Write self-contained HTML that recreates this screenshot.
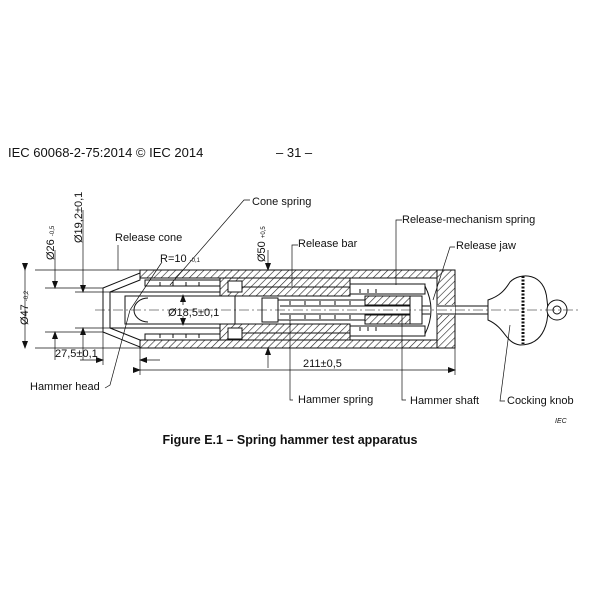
<!DOCTYPE html>
<html><head><meta charset="utf-8"><style>
body{margin:0;background:#fff;width:600px;height:600px;overflow:hidden}
svg{display:block}
text{font-family:"Liberation Sans",sans-serif;fill:#111}
</style></head><body>
<svg width="600" height="600" viewBox="0 0 600 600" xmlns="http://www.w3.org/2000/svg">
<defs>
<pattern id="h" width="5" height="5" patternUnits="userSpaceOnUse" patternTransform="rotate(45)">
<rect width="5" height="5" fill="#fff"/><line x1="0" y1="0" x2="0" y2="5" stroke="#222" stroke-width="1.2"/></pattern>
<marker id="a" markerWidth="8" markerHeight="6" refX="7" refY="3" orient="auto" markerUnits="userSpaceOnUse"><path d="M0,0 L8,3 L0,6z" fill="#111"/></marker>
</defs>
<text x="8" y="157" font-size="13">IEC 60068-2-75:2014 © IEC 2014</text>
<text x="276" y="157" font-size="13">– 31 –</text>

<g stroke="#111" stroke-width="1" fill="none">
<!-- outer tube -->
<rect x="140" y="270" width="315" height="8" fill="url(#h)"/>
<rect x="140" y="340" width="315" height="8" fill="url(#h)"/>
<rect x="437" y="270" width="18" height="78" fill="url(#h)"/>
<rect x="437" y="305" width="18" height="10" fill="#fff" stroke="none"/>
<!-- release cone -->
<path d="M103,288 L140,273 L140,280 L110,292 L110,328 L140,340 L140,347 L103,332 Z" fill="#fff"/>
<line x1="110" y1="292" x2="230" y2="292"/><line x1="110" y1="328" x2="230" y2="328"/>
<!-- cone springs -->
<rect x="145" y="280" width="75" height="6" fill="#fff"/><rect x="145" y="334" width="75" height="6" fill="#fff"/>
<!-- middle sleeve -->
<rect x="220" y="278" width="130" height="18" fill="url(#h)"/>
<rect x="220" y="324" width="130" height="16" fill="url(#h)"/>
<rect x="228" y="281" width="14" height="11" fill="#fff"/><rect x="228" y="328" width="14" height="11" fill="#fff"/>
<line x1="242" y1="287" x2="400" y2="287"/><line x1="242" y1="333" x2="400" y2="333"/>
<rect x="350" y="284" width="75" height="10" fill="#fff"/><rect x="350" y="326" width="75" height="10" fill="#fff"/>
<!-- inner hammer -->
<rect x="125" y="296" width="110" height="28" fill="#fff"/>
<path d="M148,298 A14,12 0 0 0 148,322" />
<rect x="262" y="298" width="16" height="24" fill="#fff"/>
<line x1="278" y1="300" x2="390" y2="300"/><line x1="278" y1="320" x2="390" y2="320"/>
<line x1="280" y1="306" x2="430" y2="306"/><line x1="280" y1="314" x2="430" y2="314"/>
<rect x="365" y="296" width="45" height="9" fill="url(#h)"/><rect x="365" y="315" width="45" height="9" fill="url(#h)"/>
<path d="M425,286 Q437,310 425,334" />
<rect x="410" y="296" width="12" height="28" fill="#fff"/>
<!-- shaft & knob -->
<line x1="437" y1="306" x2="492" y2="306"/><line x1="437" y1="314" x2="492" y2="314"/>
<path d="M488,300 C500,296 505,290 510,282 C520,272 545,272 547,300 C550,320 545,345 520,345 C505,343 506,328 488,320 Z" fill="#fff"/>
<line x1="523" y1="276" x2="523" y2="344" stroke-dasharray="2 1.5" stroke-width="3"/>
<circle cx="557" cy="310" r="10" fill="#fff"/><circle cx="557" cy="310" r="4"/>
<line x1="95" y1="310" x2="580" y2="310" stroke-dasharray="10 3 2 3" stroke-width="0.6"/>
<!-- springs ticks -->
<path d="M160,282v4M173,282v4M186,282v4M199,282v4M160,334v4M173,334v4M186,334v4M199,334v4M290,301v4M305,301v4M320,301v4M335,301v4M350,301v4M290,315v4M305,315v4M320,315v4M335,315v4M350,315v4M360,289v4M368,289v4M376,289v4M360,327v4M368,327v4M376,327v4"/>
<!-- dimension lines -->
<line x1="35" y1="270" x2="140" y2="270" stroke-width="0.7"/><line x1="35" y1="348" x2="140" y2="348" stroke-width="0.7"/>
<line x1="25" y1="270" x2="25" y2="348" stroke-width="0.7" marker-start="url(#a)" marker-end="url(#a)"/>
<line x1="45" y1="288" x2="103" y2="288" stroke-width="0.7"/><line x1="45" y1="332" x2="103" y2="332" stroke-width="0.7"/>
<line x1="55" y1="250" x2="55" y2="288" stroke-width="0.7" marker-end="url(#a)"/><line x1="55" y1="360" x2="55" y2="332" stroke-width="0.7" marker-end="url(#a)"/>
<line x1="75" y1="292" x2="110" y2="292" stroke-width="0.7"/><line x1="75" y1="328" x2="110" y2="328" stroke-width="0.7"/>
<line x1="83" y1="210" x2="83" y2="292" stroke-width="0.7" marker-end="url(#a)"/><line x1="83" y1="360" x2="83" y2="328" stroke-width="0.7" marker-end="url(#a)"/>
<line x1="103" y1="332" x2="103" y2="365" stroke-width="0.7"/><line x1="140" y1="348" x2="140" y2="375" stroke-width="0.7"/>
<line x1="80" y1="360" x2="103" y2="360" stroke-width="0.7" marker-end="url(#a)"/><line x1="160" y1="360" x2="140" y2="360" stroke-width="0.7" marker-end="url(#a)"/>
<line x1="455" y1="348" x2="455" y2="375" stroke-width="0.7"/>
<line x1="140" y1="370" x2="455" y2="370" stroke-width="0.7" marker-start="url(#a)" marker-end="url(#a)"/>
<line x1="268" y1="250" x2="268" y2="270" stroke-width="0.7" marker-end="url(#a)"/><line x1="268" y1="368" x2="268" y2="348" stroke-width="0.7" marker-end="url(#a)"/>
<line x1="183" y1="305" x2="183" y2="295" stroke-width="0.7" marker-end="url(#a)"/><line x1="183" y1="316" x2="183" y2="325" stroke-width="0.7" marker-end="url(#a)"/>
<!-- leaders -->
<path d="M250,200 L244,200 L170,285" stroke-width="0.7"/>
<path d="M118,245 L118,270" stroke-width="0.7"/>
<path d="M162,262 L130,310 L110,385 L105,388" stroke-width="0.7"/>
<path d="M298,245 L292,245 L292,286" stroke-width="0.7"/>
<path d="M402,220 L396,220 L396,285" stroke-width="0.7"/>
<path d="M455,247 L450,247 L433,300" stroke-width="0.7"/>
<path d="M293,400 L290,400 L290,320" stroke-width="0.7"/>
<path d="M406,400 L402,400 L402,314" stroke-width="0.7"/>
<path d="M505,401 L500,401 L510,325" stroke-width="0.7"/>
</g>
<g font-size="11">
<text x="252" y="205">Cone spring</text>
<text x="115" y="241">Release cone</text>
<text x="160" y="262">R=10 <tspan font-size="6">-0,1</tspan></text>
<text x="298" y="247">Release bar</text>
<text x="402" y="223">Release-mechanism spring</text>
<text x="456" y="249">Release jaw</text>
<text x="168" y="316">Ø18,5±0,1</text>
<text x="55" y="357">27,5±0,1</text>
<text x="303" y="367">211±0,5</text>
<text x="30" y="390">Hammer head</text>
<text x="298" y="403">Hammer spring</text>
<text x="410" y="404">Hammer shaft</text>
<text x="507" y="404">Cocking knob</text>
<text transform="translate(28,325) rotate(-90)">Ø47 <tspan font-size="6">-0,2</tspan></text>
<text transform="translate(54,260) rotate(-90)">Ø26 <tspan font-size="6">-0,5</tspan></text>
<text transform="translate(82,243) rotate(-90)">Ø19,2±0,1</text>
<text transform="translate(265,262) rotate(-90)">Ø50 <tspan font-size="6">+0,5</tspan></text>
</g>
<text x="555" y="423" font-size="7" font-style="italic">IEC</text>
<text x="290" y="444" font-size="12.5" font-weight="bold" text-anchor="middle">Figure E.1 – Spring hammer test apparatus</text>
</svg>
</body></html>
